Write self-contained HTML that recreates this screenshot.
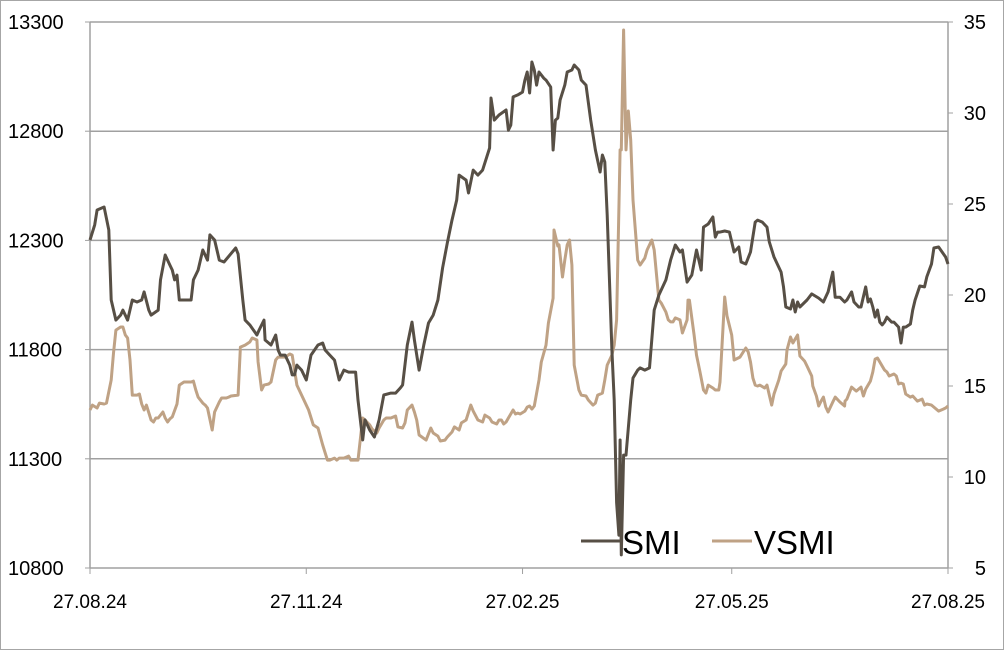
<!DOCTYPE html>
<html><head><meta charset="utf-8"><style>
html,body{margin:0;padding:0;background:#fff}
svg{display:block;font-family:"Liberation Sans",sans-serif}
</style></head><body>
<svg id="chart" width="1004" height="650" viewBox="0 0 1004 650" xmlns="http://www.w3.org/2000/svg">
<rect x="0.5" y="0.5" width="1003" height="649" fill="#fff" stroke="#a6a6a6"/>
<g id="grid"></g>
<g id="axes"></g>
<g id="series"></g>
<g>
<line x1="581" y1="541" x2="620" y2="541" stroke="#574f45" stroke-width="3"/>
<text x="622" y="554" font-size="33" fill="#000">SMI</text>
<line x1="712" y1="541" x2="752" y2="541" stroke="#bfa285" stroke-width="3"/>
<text x="754" y="554" font-size="33" fill="#000">VSMI</text>
</g>
</svg>
<script>
const leftTicks=[10800,11300,11800,12300,12800,13300];
const rightTicks=[5,10,15,20,25,30,35];
const xTickDays=[0,92,184,273,365];
const xTickLabels=["27.08.24","27.11.24","27.02.25","27.05.25","27.08.25"];
const smiDays=[0,2,3,6,8,9,11,13,14,16,18,20,22,23,25,26,29,30,32,34,35,36,37,38,41,43,44,46,48,50,51,53,55,57,62,63,65,66,68,71,72,74,74.5,77,79,80,81,83,85,86,87,88,90,92,94,97,99,100,102,104,106,108,110,113,114,116,117,119,121,123,125,128,130,132,133,135,137,138,140,142,144,146,148,150,152,154,156,157,160,161,163,165,167,170,170.6,172,174,177,178,179,180,182,184,185,186,187,188,189,190,191,193,194,196,197,198,199,200,202,203,205,206,208,209,211,213,215,217,218,219,220,222,223,224,225,225.5,226,227,228,230,231,233,234,236,238,240,242,245,247,249,251,252,254,256,258,260,261,263,265,266,267,268,270,272,274,276,277,279,281,283,284,286,288,289,291,294,295,296,298,299,300,301,302,305,307,310,312,314,316,317,319,321,322,324,325,327,328,330,331,332,333,334,335,336,337,338,339,341,342,344,345,346,347,349,350,351,353,355,356,358,359,361,364,365];
const smiValues=[12302,12371,12439,12453,12348,12027,11935,11958,11981,11935,12027,12018,12027,12064,11981,11958,11981,12119,12233,12187,12164,12119,12141,12027,12027,12027,12119,12164,12256,12210,12325,12302,12210,12201,12265,12238,12027,11935,11913,11867,11890,11935,11844,11821,11867,11798,11775,11775,11729,11684,11684,11729,11706,11661,11775,11821,11830,11798,11775,11752,11661,11706,11697,11697,11569,11386,11478,11432,11400,11478,11592,11601,11601,11624,11638,11821,11926,11844,11706,11821,11922,11958,12027,12174,12288,12393,12485,12599,12576,12517,12622,12599,12622,12723,12952,12851,12874,12897,12805,12828,12957,12966,12979,13034,13071,12975,13117,13080,13011,13071,13043,13034,13002,12714,12851,12860,12943,13011,13071,13080,13103,13080,13034,13011,12851,12714,12613,12691,12659,12416,11798,11569,11100,10950,11386,10860,11317,11317,11569,11670,11706,11716,11706,11716,11981,12050,12119,12210,12279,12247,12256,12109,12141,12256,12164,12361,12375,12407,12315,12338,12338,12343,12338,12247,12270,12201,12192,12247,12384,12393,12384,12361,12293,12224,12155,12087,11995,11986,12027,11972,12018,11995,12027,12055,12036,12018,12064,12155,12040,12040,12018,12027,12064,12018,11995,11995,12087,12018,12032,11995,11949,11981,11926,11913,11926,11949,11926,11926,11903,11830,11903,11903,11917,11981,12027,12091,12087,12133,12192,12265,12270,12224,12192];
const vsmiDays=[0,1,3,4,6,7,9,10,11,13,14,15,16,17,18,20,21,22,23,24,26,27,28,29,31,32,33,34,35,37,38,40,41,43,44,45,46,48,49,50,52,53,55,56,58,59,60,63,64,66,68,69,71,71.5,73,74,76,77,79,80,83,85,86,88,89,91,93,95,97,99,101,102,104,105,106,108,110,111,113,114,116,117,119,120,122,123,125,126,128,130,131,133,134,135,137,138,139,140,143,145,146,148,149,151,152,154,155,157,158,160,162,163,165,167,168,170,171,173,174,175,176,177,178,180,181,182,183,185,186,187,188,189,191,192,194,195,197,197.4,199,199.5,201,202,203,204,205,206,208,209,211,212,214,215,216,218,219,220,222,223,224,225.5,226,227,228,229,230,231,233,234,236,237,239,240,242,243,245,246,247,248,249,251,252,254,254.4,255,257,258,259.5,261,262,263,265,266,267.5,268,270,271,273,274,276.5,279,280,281,282,283,284,285,287,288,289,290,291,293,294,296,296.5,298,299,300,301,302,304,305,307,307.5,309,310,311,312,313,314,316,317,319,321,321.2,322,324,326,328,329,330,332,333,334,335,336,338,339,340,342,343,344,345,346,347,349,350,352,354,355,356,358,359,361,363,364,365];
const vsmiValues=[13.68,13.95,13.79,14.06,14.01,14.06,15.33,16.81,18.07,18.24,18.24,17.80,17.64,16.43,14.50,14.50,14.56,14.01,13.68,13.95,13.13,13.02,13.24,13.24,13.57,13.24,13.02,13.19,13.30,14.01,15.05,15.22,15.22,15.22,15.27,14.78,14.39,14.06,13.95,13.79,12.58,13.57,14.12,14.34,14.34,14.39,14.45,14.50,17.14,17.25,17.42,17.64,17.53,16.32,14.78,15.05,15.11,15.22,16.43,16.59,16.59,16.76,16.70,15.05,14.78,14.23,13.68,12.86,12.69,11.76,10.93,10.93,11.04,10.93,11.04,11.04,11.15,10.93,10.93,10.93,13.24,13.13,12.86,12.64,12.42,12.69,13.13,13.24,13.24,13.35,12.75,12.69,12.97,13.68,13.95,13.57,13.13,12.31,12.03,12.69,12.42,12.25,11.98,12.03,12.20,12.47,12.75,12.58,12.97,13.13,13.95,13.62,13.13,13.02,13.40,13.24,13.02,12.91,13.13,13.13,12.91,13.02,13.24,13.68,13.46,13.51,13.46,13.62,13.84,13.90,13.73,13.90,15.33,16.32,17.25,18.46,19.83,23.57,22.69,22.75,20.99,21.92,22.75,23.02,21.65,16.15,14.78,14.50,14.45,14.23,13.95,14.06,14.50,14.61,15.33,16.15,16.70,17.25,18.63,27.97,27.97,34.56,27.97,30.11,28.52,25.22,21.92,21.65,22.03,22.47,23.02,22.47,19.72,19.56,19.06,18.63,18.52,18.52,18.74,18.63,17.91,18.63,19.72,19.72,17.80,16.70,15.77,14.78,14.61,15.05,14.89,14.78,14.78,15.22,19.89,18.85,17.80,16.43,16.59,17.09,16.87,16.32,15.44,15.05,15.00,15.05,14.89,15.05,14.50,13.95,14.56,15.33,15.82,16.21,16.98,17.69,17.36,17.58,17.80,16.65,16.37,16.10,15.55,15.00,14.45,13.90,14.17,14.39,13.84,13.57,14.12,14.39,14.12,13.90,14.17,14.28,14.94,14.72,14.94,14.45,14.83,15.27,15.77,16.48,16.54,16.32,15.88,15.77,15.55,15.66,15.55,15.11,15.16,15.11,14.56,14.39,14.45,14.17,14.28,13.95,14.01,13.95,13.84,13.62,13.73,13.79,13.90,14.06];

const L=90,R=948,T=22,B=568;
const xS=d=>L+(d-0)/365*(R-L);
const yL=v=>B-(v-10800)/2500*(B-T);
const yR=v=>B-(v-5)/30*(B-T);
const NS="http://www.w3.org/2000/svg";
function mk(tag,attrs,parent,txt){const e=document.createElementNS(NS,tag);for(const k in attrs)e.setAttribute(k,attrs[k]);if(txt!==undefined)e.textContent=txt;parent.appendChild(e);return e;}
const grid=document.getElementById('grid'),axes=document.getElementById('axes'),series=document.getElementById('series');
leftTicks.forEach(v=>{
  const y=yL(v);
  if(v>10800){const g=mk('line',{x1:L,x2:R,y1:y,y2:y,stroke:'#a0a0a0','stroke-width':1.5},grid);
  
  }
  const t=mk('text',{x:8,y:y+7,'font-size':20,fill:'#000'},axes,String(v));
  
  
  const tk=mk('line',{x1:L-5,x2:L,y1:y,y2:y,stroke:'#a0a0a0'},axes);
  
  
});
rightTicks.forEach(v=>{
  const y=yR(v);
  const t=mk('text',{x:986,y:y+7,'font-size':20,fill:'#000','text-anchor':'end'},axes,String(v));
  
  
  const tk=mk('line',{x1:R,x2:R+5,y1:y,y2:y,stroke:'#a0a0a0'},axes);
  
  
});
const la=mk('line',{x1:L,x2:L,y1:T,y2:B,stroke:'#a0a0a0','stroke-width':1.5},axes);


const ra=mk('line',{x1:R,x2:R,y1:T,y2:B,stroke:'#a0a0a0','stroke-width':1.5},axes);


const xa=mk('line',{x1:L,x2:R,y1:B,y2:B,stroke:'#a0a0a0','stroke-width':1.5},axes);


xTickDays.forEach((d,i)=>{
  const x=xS(d);
  const tk=mk('line',{x1:x,x2:x,y1:B,y2:B+6,stroke:'#a0a0a0'},axes);
  
  
  const t=mk('text',{x:x,y:B+40,'font-size':19,fill:'#000','text-anchor':'middle'},axes,xTickLabels[i]);
  
  
});
function pts(days,vals,yf){return days.map((d,i)=>xS(d).toFixed(1)+','+yf(vals[i]).toFixed(1)).join(' ');}
const pv=mk('polyline',{points:pts(vsmiDays,vsmiValues,yR),fill:'none',stroke:'#bfa285','stroke-width':3,'stroke-linejoin':'round'},series);


const ps=mk('polyline',{points:pts(smiDays,smiValues,yL),fill:'none',stroke:'#574f45','stroke-width':3,'stroke-linejoin':'round'},series);


</script>
</body></html>
